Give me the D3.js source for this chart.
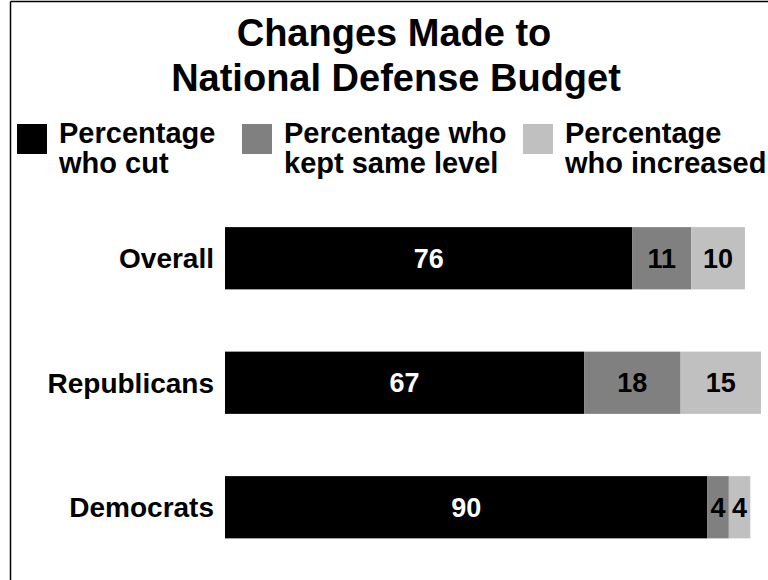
<!DOCTYPE html>
<html><head><meta charset="utf-8">
<script src="https://cdn.jsdelivr.net/npm/d3@7"></script>
<style>body{margin:0;background:#fff;overflow:hidden}svg{display:block;font-family:"Liberation Sans",Arial,sans-serif}</style>
</head><body>
<script>
const categories = ["Overall", "Republicans", "Democrats"];
const seriesNames = ["Percentage who cut", "Percentage who kept same level", "Percentage who increased"];
const cutValues = [76, 67, 90];
const sameValues = [11, 18, 4];
const increasedValues = [10, 15, 4];
const legendLines = [["Percentage", "who cut"], ["Percentage who", "kept same level"], ["Percentage", "who increased"]];
const colors = ["#000000", "#808080", "#c0c0c0"];
const labelColors = ["#ffffff", "#000000", "#000000"];

const W = 768, H = 580;
const svg = d3.select("body").append("svg").attr("width", W).attr("height", H);

// frame
svg.append("line").attr("x1", 10.5).attr("x2", W).attr("y1", 1.5).attr("y2", 1.5).attr("stroke", "#000").attr("stroke-width", 1.5);
svg.append("line").attr("x1", 10.5).attr("x2", 10.5).attr("y1", 1.5).attr("y2", H).attr("stroke", "#000").attr("stroke-width", 1.5);

// title
svg.append("text").attr("x", 394).attr("y", 46).attr("text-anchor", "middle")
  .attr("font-size", 38).attr("font-weight", "bold").text("Changes Made to");
svg.append("text").attr("x", 396).attr("y", 91).attr("text-anchor", "middle")
  .attr("font-size", 38).attr("font-weight", "bold").text("National Defense Budget");

// legend
const legX = [17, 242, 523];
legendLines.forEach((lines, i) => {
  const g = svg.append("g");
  g.append("rect").attr("x", legX[i]).attr("y", 124).attr("width", 30).attr("height", 30).attr("fill", colors[i]);
  lines.forEach((t, j) => {
    g.append("text").attr("x", legX[i] + 42).attr("y", 143 + j * 30)
      .attr("font-size", 29).attr("font-weight", "bold").text(t);
  });
});

const data = categories.map((c, i) => ({cat: c, vals: [cutValues[i], sameValues[i], increasedValues[i]]}));

const x = d3.scaleLinear().domain([0, 100]).range([225, 761]);
const y = d3.scaleBand().domain(categories).range([196, 569.5]).paddingInner(0.5).paddingOuter(0.25);

data.forEach(d => {
  let acc = 0;
  d.vals.forEach((v, k) => {
    const x0 = x(acc), x1 = x(acc + v);
    svg.append("rect").attr("x", x0).attr("y", y(d.cat)).attr("width", x1 - x0)
      .attr("height", y.bandwidth()).attr("fill", colors[k]);
    svg.append("text").attr("x", (x0 + x1) / 2).attr("y", y(d.cat) + y.bandwidth() / 2)
      .attr("dy", "0.36em").attr("text-anchor", "middle").attr("font-size", 27)
      .attr("font-weight", "bold").attr("fill", labelColors[k]).text(v);
    acc += v;
  });
});

// category axis labels
const yAxis = d3.axisLeft(y).tickSize(0).tickPadding(0);
const ga = svg.append("g").attr("transform", "translate(214,0)").call(yAxis);
ga.select(".domain").remove();
ga.selectAll("text").attr("font-size", 28).attr("font-weight", "bold")
  .attr("font-family", '"Liberation Sans",Arial,sans-serif').attr("fill", "#000").attr("dy", "0.36em");
</script>
</body></html>
